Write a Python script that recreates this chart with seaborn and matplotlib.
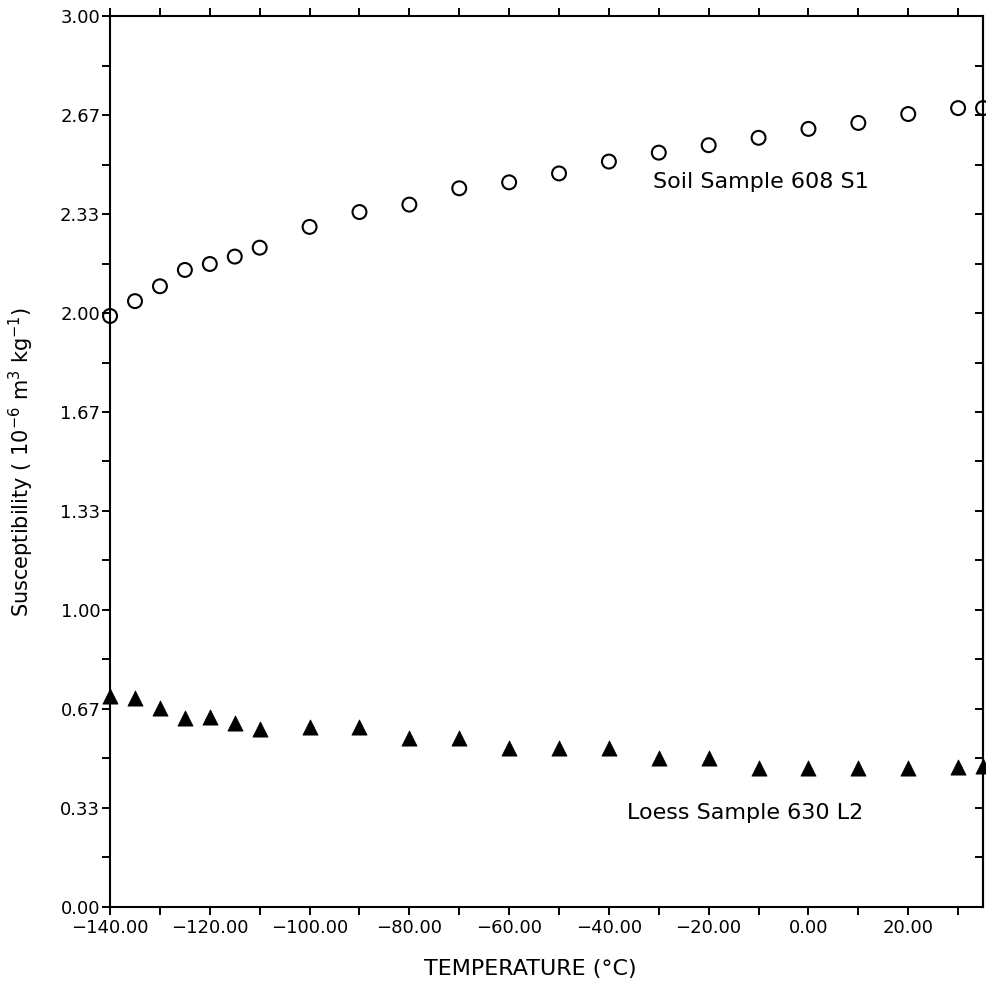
import matplotlib
matplotlib.use('Agg')
import matplotlib.pyplot as plt
import seaborn as sns
from matplotlib.ticker import MultipleLocator, FuncFormatter, FixedLocator

# Dados
temp = [-140, -135, -130, -125, -120, -115, -110, -100, -90, -80, -70,
        -60, -50, -40, -30, -20, -10, 0, 10, 20, 30, 35]
chi_soil = [1.99, 2.04, 2.09, 2.145, 2.165, 2.19, 2.22, 2.29, 2.34, 2.365, 2.42,
            2.44, 2.47, 2.51, 2.54, 2.565, 2.59, 2.62, 2.64, 2.67, 2.69, 2.69]
chi_loess = [0.71, 0.705, 0.67, 0.635, 0.64, 0.62, 0.60, 0.605, 0.605, 0.57, 0.57,
             0.535, 0.535, 0.535, 0.50, 0.50, 0.468, 0.468, 0.468, 0.468, 0.47, 0.475]
yticks = [0, 1/3, 2/3, 1, 4/3, 5/3, 2, 7/3, 8/3, 3]
label_soil = 'Soil Sample 608 S1'
label_loess = 'Loess Sample 630 L2'

sns.set_style('ticks')
plt.rcParams['font.family'] = ['DejaVu Sans']
plt.rcParams['text.color'] = 'black'
plt.rcParams['axes.labelcolor'] = 'black'
plt.rcParams['xtick.color'] = 'black'
plt.rcParams['ytick.color'] = 'black'

fig = plt.figure(figsize=(9.87, 9.84), dpi=100)
ax = fig.add_axes([0.1115, 0.0783, 0.8845, 0.9054])

sns.scatterplot(x=temp, y=chi_soil, marker='o', s=100, facecolors='none',
                edgecolor='black', linewidth=1.5, ax=ax, clip_on=False, zorder=3)
sns.scatterplot(x=temp, y=chi_loess, marker='^', s=120, color='black',
                edgecolor='black', linewidth=0.5, ax=ax, clip_on=False, zorder=3)

ax.set_xlim(-140, 35)
ax.set_ylim(0, 3)

fmt = FuncFormatter(lambda v, p: f'{v:.2f}'.replace('-', '\u2212'))
ax.xaxis.set_major_locator(MultipleLocator(20))
ax.xaxis.set_minor_locator(MultipleLocator(10))
ax.xaxis.set_major_formatter(fmt)
ax.yaxis.set_major_locator(FixedLocator(yticks))
ax.yaxis.set_minor_locator(MultipleLocator(1/6))
ax.yaxis.set_major_formatter(fmt)

for s in ax.spines.values():
    s.set_linewidth(1.5)
    s.set_color('black')
    s.set_visible(True)

ax.tick_params(axis='x', which='both', direction='out', length=6, width=1.4,
               top=True, bottom=True, labelsize=13, pad=3)
ax.tick_params(axis='y', which='both', direction='out', length=6, width=1.4,
               left=True, right=False, labelsize=13, pad=1)

# ticks do lado direito, para dentro
sec = ax.secondary_yaxis('right')
sec.yaxis.set_major_locator(MultipleLocator(1/6))
sec.tick_params(direction='in', length=6, width=1.4, labelright=False)
sec.spines['right'].set_linewidth(1.5)

ax.set_xlabel('TEMPERATURE (°C)', fontsize=16)
ax.xaxis.set_label_coords(0.481, -0.058)
ax.set_ylabel(r'Susceptibility ( 10$^{-6}$ m$^{3}$ kg$^{-1}$)', fontsize=15)
ax.yaxis.set_label_coords(-0.085, 0.5)

ax.text(-31.2, 2.44, label_soil, fontsize=16, va='center', ha='left')
ax.text(-36.4, 0.316, label_loess, fontsize=16, va='center', ha='left')

plt.savefig('out.png', dpi=100)
plt.close()
